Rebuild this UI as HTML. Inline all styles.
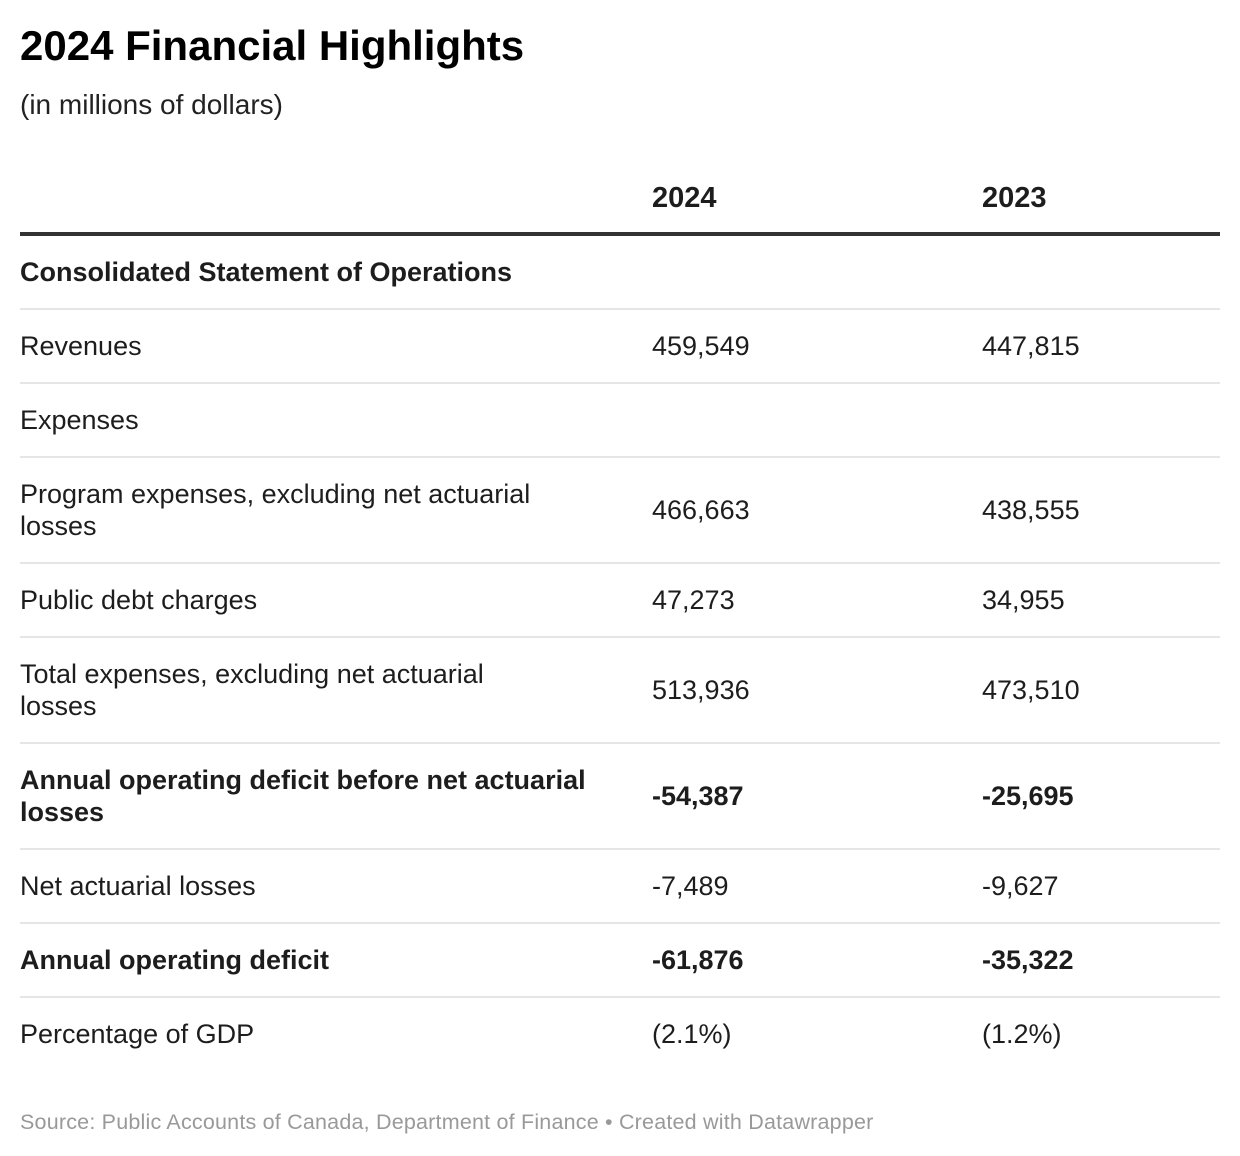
<!DOCTYPE html>
<html><head><meta charset="utf-8"><style>
body{margin:0;width:1240px;height:1156px;background:#fff;font-family:"Liberation Sans",Arial,sans-serif;color:#1d1d1d;position:relative;overflow:hidden}
.a{position:absolute}
.title{left:20px;top:22px;font-size:42px;font-weight:bold;color:#000;letter-spacing:0px}
.sub{left:20px;top:89px;font-size:28px;color:#222}
.row{position:absolute;left:20px;width:1200px;display:flex;align-items:center;font-size:27px;line-height:32px}
.c0{width:632px}.c1{width:330px}.c2{width:238px}
.b{font-weight:bold}
.line{position:absolute;left:20px;width:1200px;height:2px;background:#e6e6e6}
.src{left:20px;top:1110px;font-size:21.5px;color:#999;letter-spacing:0.2px}
</style></head><body>
<div class="a title">2024 Financial Highlights</div>
<div class="a sub">(in millions of dollars)</div>
<div class="row b" style="top:176px;height:44px;font-size:29px"><div class="c0"></div><div class="c1">2024</div><div class="c2">2023</div></div>
<div class="a" style="left:20px;top:232px;width:1200px;height:4px;background:#333"></div>
<div id="rows"></div>
<div class="a src">Source: Public Accounts of Canada, Department of Finance • Created with Datawrapper</div>
<script>
const labels=["Consolidated Statement of Operations","Revenues","Expenses","Program expenses, excluding net actuarial<br>losses","Public debt charges","Total expenses, excluding net actuarial<br>losses","Annual operating deficit before net actuarial<br>losses","Net actuarial losses","Annual operating deficit","Percentage of GDP"];
const v2024=["","459,549","","466,663","47,273","513,936","-54,387","-7,489","-61,876","(2.1%)"];
const v2023=["","447,815","","438,555","34,955","473,510","-25,695","-9,627","-35,322","(1.2%)"];
const bold=[1,0,0,0,0,0,1,0,1,0];
const root=document.getElementById('rows');
let y=235;
labels.forEach((l,i)=>{
  const h=l.includes('<br>')?105:73;
  const r=document.createElement('div');
  r.className='row'+(bold[i]?' b':'');
  r.style.top=y+'px';r.style.height=h+'px';
  
  
  r.innerHTML='<div class="c0">'+l+'</div><div class="c1">'+v2024[i]+'</div><div class="c2">'+v2023[i]+'</div>';
  root.appendChild(r);
  y+=h;
  if(i<labels.length-1){
    const ln=document.createElement('div');
    ln.className='line';ln.style.top=y+'px';
    
    
    root.appendChild(ln);
    y+=1;
  }
});
</script>
</body></html>
